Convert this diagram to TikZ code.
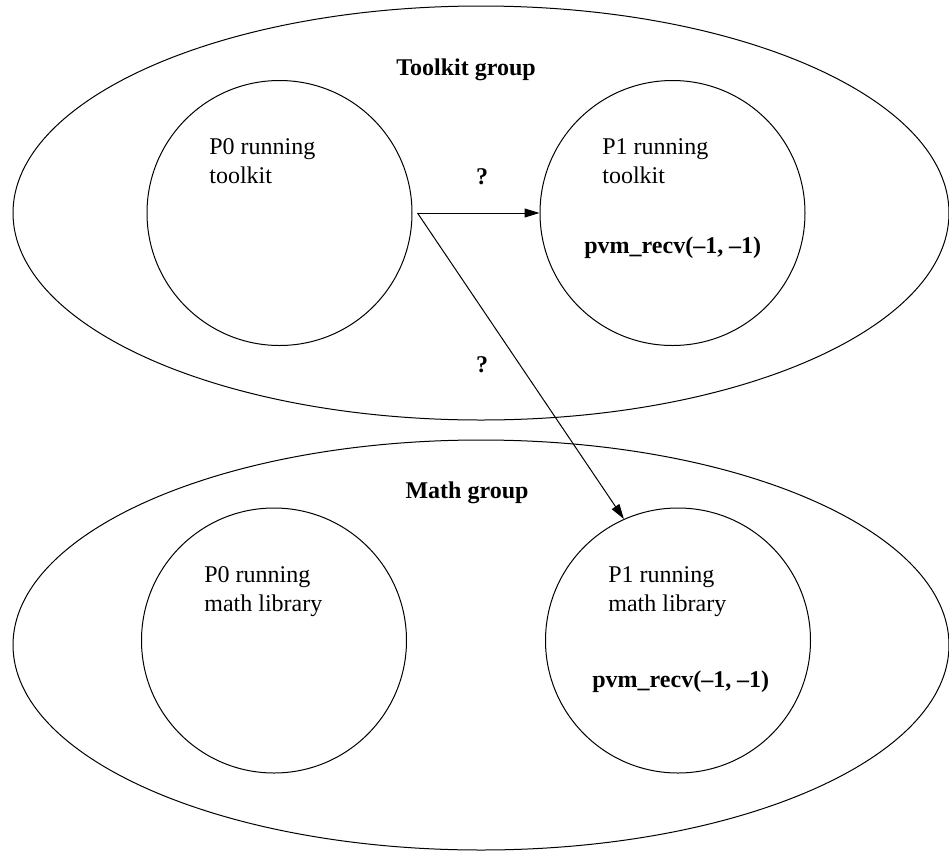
\documentclass[tikz,border=0pt]{standalone}
\usepackage{fontspec}
\setmainfont{Liberation Serif}
\usetikzlibrary{shapes.geometric,arrows.meta}

% two stacked lines whose baseline is the first line's baseline
\newcommand{\twolines}[2]{\vtop{\hbox{#1}\hbox{#2}}}

\tikzset{
  groupbox/.style={draw, ellipse, inner sep=0pt, line width=0.5pt,
                   minimum width=468pt, minimum height=207pt},
  procbox/.style={draw, circle, inner sep=0pt, line width=0.5pt,
                  minimum size=132.5pt},
  plain/.style={inner sep=0pt, font=\fontsize{12}{14.5}\selectfont},
  heading/.style={plain, font=\fontsize{12}{14.5}\selectfont\bfseries, anchor=base},
  note/.style={plain, anchor=base west},
  call/.style={plain, font=\fontsize{12}{14.5}\selectfont\bfseries, anchor=base west},
  msg/.style={-{Triangle[length=7.5pt,width=4.5pt]}, line width=0.5pt},
}

\begin{document}
\begin{tikzpicture}[x=0.5pt, y=-0.5pt]
  \useasboundingbox (0,0) rectangle (949,852);

  % process groups
  \node[groupbox] (toolkit) at (481,213) {};
  \node[groupbox, minimum height=205pt] (math) at (481,645) {};

  % processes
  \node[procbox] (p0t) at (279.5,213) {};
  \node[procbox] (p1t) at (672.5,213) {};
  \node[procbox] (p0m) at (274,640.5) {};
  \node[procbox] (p1m) at (678,640.5) {};

  % labels
  \node[heading] (toolkitlbl) at (466,75) {Toolkit group};
  \node[heading] (mathlbl) at (467,498) {Math group};

  \node[note] (p0tlbl) at (209,154) {\twolines{P0 running}{toolkit}};
  \node[note] (p1tlbl) at (602,154) {\twolines{P1 running}{toolkit}};
  \node[note] (p0mlbl) at (204,582) {\twolines{P0 running}{math library}};
  \node[note] (p1mlbl) at (608,582) {\twolines{P1 running}{math library}};

  \node[call] (recvt) at (584,253) {pvm\_recv(–1, –1)};
  \node[call] (recvm) at (592,687) {pvm\_recv(–1, –1)};

  \node[heading] (q1) at (482,184) {?};
  \node[heading] (q2) at (482,372) {?};

  % messages from P0 of the toolkit
  \coordinate (src) at ([xshift=2.5pt]p0t.east);
  \draw[msg] (src) -- (p1t.west);
  \draw[msg] (src) -- (p1m.114);
\end{tikzpicture}
\end{document}
